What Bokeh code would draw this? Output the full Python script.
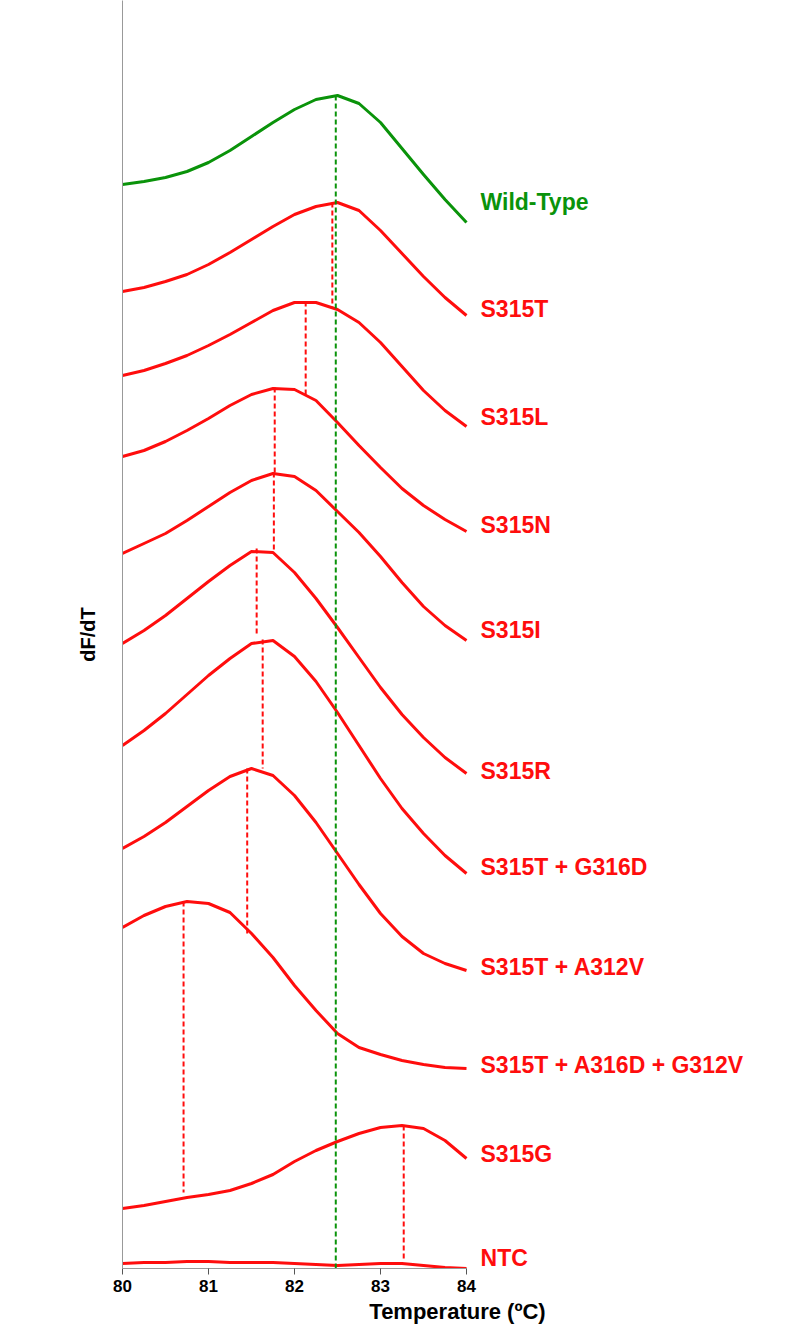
from bokeh.plotting import figure
from bokeh.models import Range1d, Label, FixedTicker
from bokeh.embed import file_html
from bokeh.resources import INLINE

# temperatures sampled every 0.25 degC
temps = [80 + 0.25 * i for i in range(17)]

# melt curves, read as distance from the top of the picture (offset below)
wild_type = [184, 181, 177, 171, 162, 150, 136, 122, 109, 99, 95, 103, 122, 148, 174, 199, 222]
s315t = [291, 287, 281, 274, 264, 252, 239, 226, 214, 206, 202, 210, 230, 253, 276, 297, 315]
s315l = [375, 370, 363, 355, 345, 334, 322, 310, 302, 302, 309, 322, 342, 366, 390, 410, 426]
s315n = [456, 450, 441, 430, 418, 405, 394, 388, 389, 400, 422, 445, 467, 488, 505, 519, 531]
s315i = [553, 543, 533, 520, 506, 492, 480, 473, 476, 490, 511, 532, 556, 582, 606, 625, 640]
s315r = [643, 630, 615, 598, 581, 565, 551, 552, 572, 598, 627, 657, 687, 714, 737, 757, 773]
s315t_g316d = [745, 730, 713, 694, 675, 658, 643, 640, 656, 681, 712, 745, 778, 808, 833, 855, 873]
s315t_a312v = [848, 836, 822, 806, 790, 776, 768, 775, 795, 822, 853, 884, 913, 936, 953, 963, 970]
s315t_a316d_g312v = [927, 915, 906, 901, 903, 912, 933, 957, 985, 1010, 1033, 1047, 1054, 1060, 1064, 1067, 1068]
s315g = [1208, 1205, 1201, 1197, 1194, 1190, 1183, 1174, 1161, 1150, 1141, 1133, 1127, 1125, 1128, 1140, 1158]
ntc = [1263, 1262, 1262, 1261, 1261, 1262, 1262, 1262, 1263, 1264, 1265, 1264, 1263, 1263, 1265, 1267, 1268]

names = ["Wild-Type", "S315T", "S315L", "S315N", "S315I", "S315R", "S315T + G316D",
         "S315T + A312V", "S315T + A316D + G312V", "S315G", "NTC"]
curves = [wild_type, s315t, s315l, s315n, s315i, s315r, s315t_g316d,
          s315t_a312v, s315t_a316d_g312v, s315g, ntc]

# melting peaks (Tm) and where each drop line ends
peak_t = [82.48, 82.44, 82.13, 81.77, 81.76, 81.56, 81.63, 81.45, 80.71, 83.27]
peak_top = [95, 202, 301, 387, 472, 548, 639, 768, 901, 1125]
peak_bottom = [1268, 307, 395, 472, 550, 636, 768, 933, 1192, 1258]

# label heights for the names on the right
label_pos = [201, 308, 416, 524, 629, 770, 866, 966, 1064, 1153, 1257]

BASE = 1268
GREEN = "#0a930a"
RED = "#ff0d0d"
PX_PER_DEG = 86

p = figure(frame_width=670, frame_height=1268, min_border_left=122, min_border_right=8,
           min_border_top=0, min_border_bottom=62,
           x_range=Range1d(80, 80 + 670 / PX_PER_DEG), y_range=Range1d(0, 1268),
           output_backend="svg", toolbar_location=None)
p.outline_line_color = None
p.grid.visible = False

for i, c in enumerate(curves):
    col = GREEN if i == 0 else RED
    p.line(temps, [BASE - v for v in c], line_color=col, line_width=3, line_join="round")

for i in range(len(peak_t)):
    col = GREEN if i == 0 else RED
    p.line([peak_t[i], peak_t[i]], [BASE - peak_top[i], BASE - peak_bottom[i]],
           line_color=col, line_width=2, line_dash="5 3")

for i, n in enumerate(names):
    col = GREEN if i == 0 else RED
    p.add_layout(Label(x=84.163, y=BASE - label_pos[i], text=n, text_color=col,
                       text_font="Liberation Sans", text_font_style="bold",
                       text_font_size="23px", text_baseline="middle"))

p.xaxis.bounds = (80, 84)
p.xaxis.ticker = FixedTicker(ticks=[80, 81, 82, 83, 84])
p.xaxis.minor_tick_line_color = None
p.xaxis.axis_line_color = "#999999"
p.xaxis.major_tick_line_color = "#555555"
p.xaxis.major_tick_out = 6
p.xaxis.major_tick_in = 0
p.xaxis.major_label_text_font = "Liberation Sans"
p.xaxis.major_label_text_font_style = "bold"
p.xaxis.major_label_text_font_size = "17px"
p.xaxis.major_label_text_color = "black"
p.xaxis.axis_label = "Temperature (ºC)"
p.xaxis.axis_label_text_font = "Liberation Sans"
p.xaxis.axis_label_text_font_style = "bold"
p.xaxis.axis_label_text_font_size = "22px"
p.xaxis.axis_label_text_color = "black"
p.xaxis.axis_label_standoff = 4

p.yaxis.ticker = FixedTicker(ticks=[])
p.yaxis.minor_tick_line_color = None
p.yaxis.major_tick_line_color = None
p.yaxis.axis_line_color = "#999999"
p.yaxis.major_label_text_font_size = "0px"
p.yaxis.axis_label = "dF/dT"
p.yaxis.axis_label_text_font = "Liberation Sans"
p.yaxis.axis_label_text_font_style = "bold"
p.yaxis.axis_label_text_font_size = "20px"
p.yaxis.axis_label_text_color = "black"
p.yaxis.axis_label_standoff = 24

open("out.html", "w").write(file_html(p, INLINE))
